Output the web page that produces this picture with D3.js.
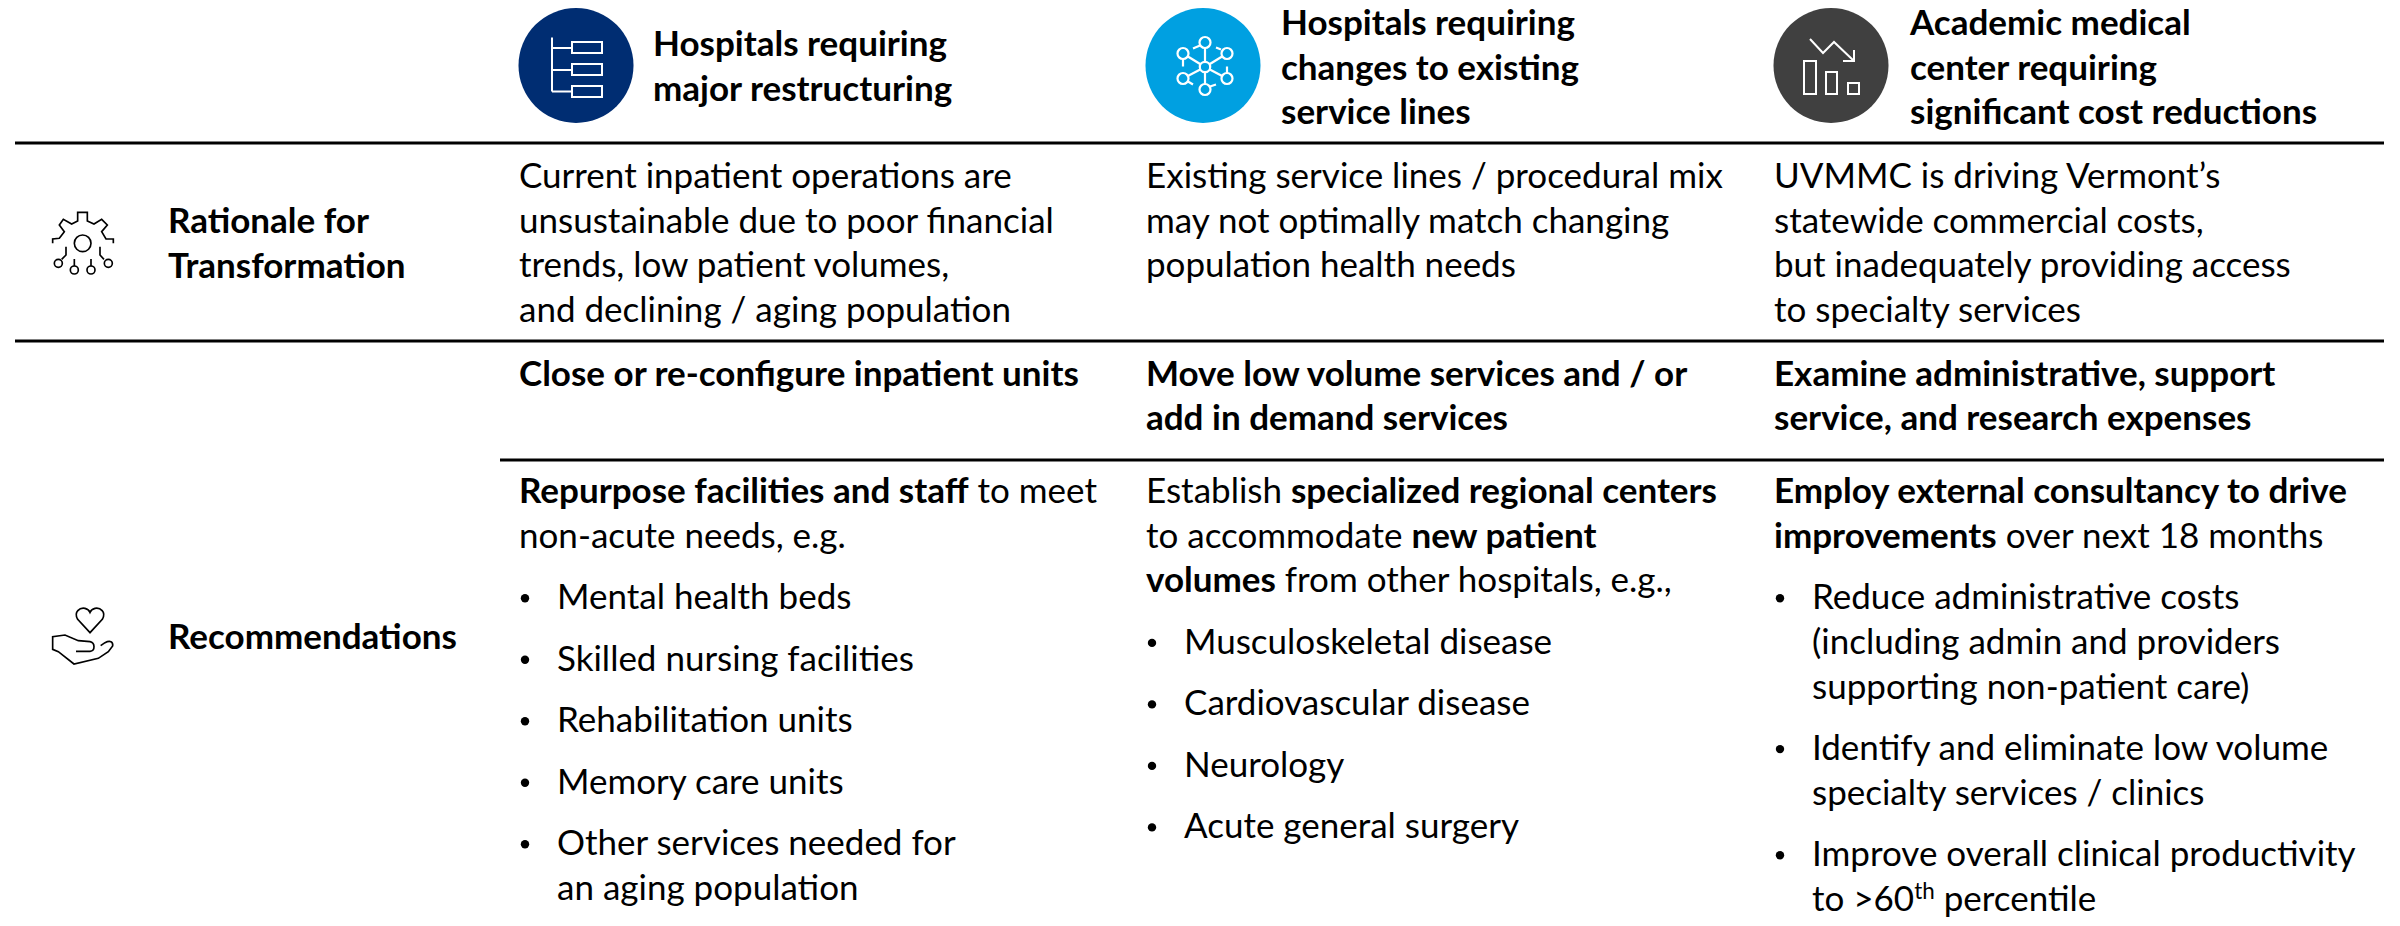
<!DOCTYPE html>
<html>
<head>
<meta charset="utf-8">
<script src="https://cdn.jsdelivr.net/npm/d3@7"></script>
<style>
  html, body { margin: 0; padding: 0; background: #fff; }
  svg { display: block; }
  text { font-family: Lato, "Open Sans", sans-serif; fill: #000; }
</style>
</head>
<body>
<svg id="chart" width="2400" height="926"></svg>
<script>
// Table content. **x** = bold, ^x^ = superscript
const headerLines = [
  ["Hospitals requiring", "major restructuring"],
  ["Hospitals requiring", "changes to existing", "service lines"],
  ["Academic medical", "center requiring", "significant cost reductions"]
];
const headerColors = ["#002d72", "#00a0e1", "#404040"];
const rowLabels = [["Rationale for", "Transformation"], ["Recommendations"]];
const rationaleLines = [
  ["Current inpatient operations are", "unsustainable due to poor financial", "trends, low patient volumes,", "and declining / aging population"],
  ["Existing service lines / procedural mix", "may not optimally match changing", "population health needs"],
  ["UVMMC is driving Vermont’s", "statewide commercial costs,", "but inadequately providing access", "to specialty services"]
];
const actionLines = [
  ["**Close or re-configure inpatient units**"],
  ["**Move low volume services and / or**", "**add in demand services**"],
  ["**Examine administrative, support**", "**service, and research expenses**"]
];
const introLines = [
  ["**Repurpose facilities and staff** to meet", "non-acute needs, e.g."],
  ["Establish **specialized regional centers**", "to accommodate **new patient**", "**volumes** from other hospitals, e.g.,"],
  ["**Employ external consultancy to drive**", "**improvements** over next 18 months"]
];
const bulletLines = [
  [["Mental health beds"], ["Skilled nursing facilities"], ["Rehabilitation units"], ["Memory care units"], ["Other services needed for", "an aging population"]],
  [["Musculoskeletal disease"], ["Cardiovascular disease"], ["Neurology"], ["Acute general surgery"]],
  [["Reduce administrative costs", "(including admin and providers", "supporting non-patient care)"], ["Identify and eliminate low volume", "specialty services / clinics"], ["Improve overall clinical productivity", "to >60^th^ percentile"]]
];

// Layout
const fontSize = 35;
const lineH = 44.7;
const colX = [519, 1146, 1774];
const headX = [653, 1281, 1910];
const circleX = [576, 1203, 1831];
const circleY = 65.5;
const circleR = 57.5;
const labelX = 168;
const bulletIndent = 38;
const bulletGap = 61.5;
const rules = [
  {x1: 15, x2: 2384, y: 143},
  {x1: 15, x2: 2384, y: 341},
  {x1: 500, x2: 2384, y: 460}
];

const svg = d3.select("#chart");

// draws one line of text, splitting the ** and ^ markers into tspans
function drawLine(g, line, x, y, bold) {
  let t = g.append("text")
    .attr("x", x)
    .attr("y", y)
    .attr("font-size", fontSize)
    .attr("font-weight", bold ? 700 : 400);
  let parts = line.split("**");
  parts.forEach((part, i) => {
    if (part === "") return;
    let weight = (bold || i % 2 === 1) ? 700 : 400;
    let subs = part.split("^");
    subs.forEach((s, j) => {
      if (s === "") return;
      let span = t.append("tspan").attr("font-weight", weight).text(s);
      if (j % 2 === 1) {
        span.attr("font-size", fontSize * 0.64).attr("dy", -12);
      } else if (j > 0) {
        span.attr("dy", 12);
      }
    });
  });
}

function drawBlock(lines, x, y, bold, step) {
  lines.forEach((line, i) => drawLine(svg, line, x, y + i * (step || lineH), bold));
}

// rules
svg.selectAll("line.rule")
  .data(rules)
  .join("line")
  .attr("class", "rule")
  .attr("x1", d => d.x1)
  .attr("x2", d => d.x2)
  .attr("y1", d => d.y)
  .attr("y2", d => d.y)
  .attr("stroke", "#000")
  .attr("stroke-width", 3);

// header circles
svg.selectAll("circle.head")
  .data(headerColors)
  .join("circle")
  .attr("class", "head")
  .attr("cx", (d, i) => circleX[i])
  .attr("cy", circleY)
  .attr("r", circleR)
  .attr("fill", d => d);

// header titles, the two line one sits lower
headerLines.forEach((lines, i) => {
  let top = lines.length === 2 ? 56 : 35;
  drawBlock(lines, headX[i], top, true, 44.5);
});

// row labels
drawBlock(rowLabels[0], labelX, 233, true, 45);
drawBlock(rowLabels[1], labelX, 649, true);

// rows
colX.forEach((x, i) => {
  drawBlock(rationaleLines[i], x, 188);
  drawBlock(actionLines[i], x, 385.5);
  drawBlock(introLines[i], x, 503);

  let y = 503 + (introLines[i].length - 1) * lineH + bulletGap;
  bulletLines[i].forEach(lines => {
    svg.append("circle")
      .attr("cx", x + 6)
      .attr("cy", y - 11)
      .attr("r", 4.2)
      .attr("fill", "#000");
    drawBlock(lines, x + bulletIndent, y);
    y += (lines.length - 1) * lineH + bulletGap;
  });
});

// ---- icons ----
function iconGroup(x, y, color, width) {
  return svg.append("g")
    .attr("transform", "translate(" + x + "," + y + ")")
    .attr("fill", "none")
    .attr("stroke", color)
    .attr("stroke-width", width);
}

// org tree
let tree = iconGroup(circleX[0], circleY, "#fff", 2);
tree.append("path").attr("d", "M-24,-28V26M-24,-17.5H-4M-24,4.5H-4M-24,26H-4");
[-23.5, -1.5, 20.5].forEach(y => {
  tree.append("rect").attr("x", -4).attr("y", y).attr("width", 30).attr("height", 11);
});

// network
let net = iconGroup(circleX[1], circleY, "#fff", 2.2);
let nodes = [[2, -23], [-20, -12], [24, -12], [-20, 13], [24, 13], [2, 24]];
nodes.forEach(n => {
  net.append("path").attr("d", "M2,1.5L" + n[0] + "," + n[1]);
  net.append("circle").attr("cx", n[0]).attr("cy", n[1]).attr("r", 5.5).attr("fill", headerColors[1]);
});
net.append("circle").attr("cx", 2).attr("cy", 1.5).attr("r", 5.2).attr("fill", headerColors[1]);
net.append("path").attr("d", "M-10,-17L-3,-20M13,-18L18,-16M-20,-7V1M24,1V8M-15,16L-10,19M7,21L13,19");

// falling chart
let falling = iconGroup(circleX[2], circleY, "#fff", 2);
falling.append("path").attr("d", "M-21,-26.5L-8,-12.5L3,-23.5L23,-4.5M23,-15.5V-4.5H12");
falling.append("rect").attr("x", -27).attr("y", -4.5).attr("width", 12).attr("height", 33);
falling.append("rect").attr("x", -5).attr("y", 6.5).attr("width", 11).attr("height", 22);
falling.append("rect").attr("x", 17).attr("y", 17.5).attr("width", 11).attr("height", 11);

// gear, drawn at 3x like the crop it was traced from
let gear = iconGroup(30, 190, "#000", 5).attr("transform", "translate(30,190) scale(0.3333)");
gear.append("path").attr("d", "M68,160V147L88,145L103,125L88,105L100,88L125,102L143,93V67H172V93L192,102L215,88L232,105L215,125L228,147H250V160");
gear.append("circle").attr("cx", 158).attr("cy", 160).attr("r", 25);
gear.append("path").attr("d", "M108,170V195L95,208M133,207V228M183,207V228M210,170V195L222,208");
[[85, 220], [133, 240], [183, 240], [235, 220]].forEach(n => {
  gear.append("circle").attr("cx", n[0]).attr("cy", n[1]).attr("r", 12);
});

// hand with heart
let hand = iconGroup(30, 590, "#000", 5).attr("transform", "translate(30,590) scale(0.3333)");
hand.append("path").attr("d", "M180,128L143,88C130,65 150,52 165,55C172,57 178,62 180,67C182,62 188,57 195,55C210,52 230,65 217,88Z");
hand.append("path").attr("d", "M212,167L225,158C240,150 250,155 248,168L235,185L205,205L132,222L85,185L68,178V140L105,135L145,152L180,155C195,158 197,182 180,184H138");
</script>
</body>
</html>
